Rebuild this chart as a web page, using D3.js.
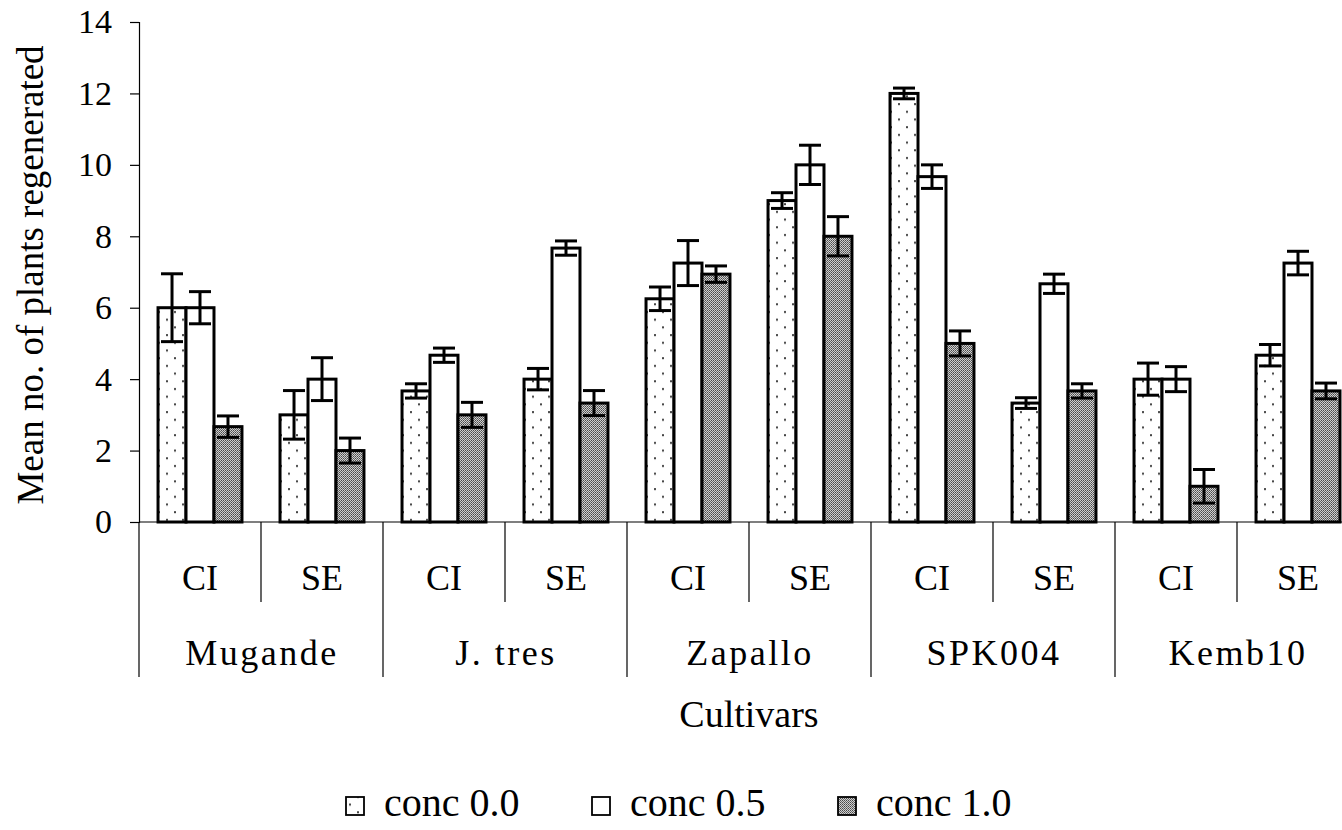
<!DOCTYPE html>
<meta charset="utf-8">
<head>
    <style>
        * { padding: 0; margin: 0; }
        body { background: #fff; }
    </style>
</head>
<body>
<svg id="chart" width="1342" height="830" font-family="'Liberation Serif', 'DejaVu Serif', serif"></svg>
<script src="https://cdn.jsdelivr.net/npm/d3@7"></script>
<script>
    // 数据
    var cultivars = ["Mugande", "J. tres", "Zapallo", "SPK004", "Kemb10"];
    var methods = ["CI", "SE"];
    var seriesNames = ["conc 0.0", "conc 0.5", "conc 1.0"];
    var yTicks = [0, 2, 4, 6, 8, 10, 12, 14];

    // 顺序: Mugande CI, Mugande SE, J. tres CI, ...
    var conc00 = [6.0, 3.0, 3.67, 4.0, 6.25, 9.0, 12.0, 3.33, 4.0, 4.67];
    var conc05 = [6.0, 4.0, 4.67, 7.67, 7.25, 10.0, 9.67, 6.67, 4.0, 7.25];
    var conc10 = [2.67, 2.0, 3.0, 3.33, 6.94, 8.0, 5.0, 3.67, 1.0, 3.67];
    var conc00Err = [0.95, 0.68, 0.2, 0.3, 0.33, 0.22, 0.15, 0.15, 0.45, 0.3];
    var conc05Err = [0.45, 0.6, 0.2, 0.2, 0.63, 0.55, 0.33, 0.27, 0.35, 0.33];
    var conc10Err = [0.3, 0.35, 0.35, 0.35, 0.23, 0.55, 0.35, 0.2, 0.47, 0.22];

    var values = [conc00, conc05, conc10];
    var errors = [conc00Err, conc05Err, conc10Err];

    // 组装行
    var rows = [];
    cultivars.forEach(function(c, i) {
        methods.forEach(function(m, j) {
            var k = i * methods.length + j;
            rows.push({
                key: c + "|" + m, cultivar: c, method: m,
                bars: seriesNames.map(function(s, si) {
                    return { series: si, value: values[si][k], err: errors[si][k] };
                })
            });
        });
    });

    var svg = d3.select("#chart");
    var serif = "'Liberation Serif', 'DejaVu Serif', serif";
    var pLeft = 139, pRight = 1359, pTop = 22, pBottom = 522;

    var y = d3.scaleLinear().domain([0, 14]).range([pBottom, pTop]);
    var x0 = d3.scaleBand().domain(rows.map(function(d) { return d.key; }))
        .range([pLeft, pRight]).paddingInner(0).paddingOuter(0);
    var x1 = d3.scaleBand().domain([0, 1, 2]).range([0, x0.bandwidth()])
        .paddingInner(0).paddingOuter(0.68);
    var xc = d3.scaleBand().domain(cultivars).range([pLeft, pRight]);

    // 填充图案
    var defs = svg.append("defs");
    var dots = defs.append("pattern").attr("id", "dots")
        .attr("patternUnits", "userSpaceOnUse").attr("width", 16).attr("height", 15.4);
    dots.append("rect").attr("width", 16).attr("height", 15.4).attr("fill", "#fff");
    dots.append("rect").attr("x", 3).attr("y", 3).attr("width", 2).attr("height", 2).attr("fill", "#444");
    dots.append("rect").attr("x", 11).attr("y", 10.7).attr("width", 2).attr("height", 2).attr("fill", "#444");

    var grey = defs.append("pattern").attr("id", "grey")
        .attr("patternUnits", "userSpaceOnUse").attr("width", 2).attr("height", 2);
    grey.append("rect").attr("width", 2).attr("height", 2).attr("fill", "#cfcfcf");
    grey.append("rect").attr("width", 1).attr("height", 1).attr("fill", "#4a4a4a");
    grey.append("rect").attr("x", 1).attr("y", 1).attr("width", 1).attr("height", 1).attr("fill", "#6a6a6a");

    var fills = ["url(#dots)", "#fff", "url(#grey)"];

    // Y 轴
    var yAxis = d3.axisLeft(y).tickValues(yTicks).tickSize(9).tickPadding(18);
    var gy = svg.append("g").attr("transform", "translate(" + pLeft + ",0)").call(yAxis)
        .attr("font-family", serif).attr("font-size", 34);
    gy.select(".domain").attr("stroke", "#000").attr("stroke-width", 1.2);
    gy.selectAll(".tick line").attr("stroke", "#000").attr("stroke-width", 1.2);
    gy.selectAll(".tick text").attr("fill", "#000");

    svg.append("text")
        .attr("transform", "translate(35,275) rotate(-90)")
        .attr("text-anchor", "middle").attr("dominant-baseline", "middle")
        .attr("font-size", 37).text("Mean no. of plants regenerated");

    // 柱子
    var groups = svg.selectAll("g.grp").data(rows).enter().append("g")
        .attr("class", "grp")
        .attr("transform", function(d) { return "translate(" + x0(d.key) + ",0)"; });

    groups.selectAll("rect.bar").data(function(d) { return d.bars; }).enter().append("rect")
        .attr("class", "bar")
        .attr("x", function(d) { return x1(d.series); })
        .attr("y", function(d) { return y(d.value); })
        .attr("width", x1.bandwidth())
        .attr("height", function(d) { return y(0) - y(d.value); })
        .attr("fill", function(d) { return fills[d.series]; })
        .attr("stroke", "#000").attr("stroke-width", 3);

    // 误差线
    var eb = groups.selectAll("g.err").data(function(d) { return d.bars; }).enter().append("g")
        .attr("class", "err")
        .attr("transform", function(d) { return "translate(" + (x1(d.series) + x1.bandwidth() / 2) + ",0)"; })
        .attr("stroke", "#000").attr("stroke-width", 3);
    eb.append("line").attr("x1", 0).attr("x2", 0)
        .attr("y1", function(d) { return y(d.value + d.err); })
        .attr("y2", function(d) { return y(d.value - d.err); });
    eb.append("line").attr("x1", -11).attr("x2", 11)
        .attr("y1", function(d) { return y(d.value + d.err); })
        .attr("y2", function(d) { return y(d.value + d.err); });
    eb.append("line").attr("x1", -11).attr("x2", 11)
        .attr("y1", function(d) { return y(d.value - d.err); })
        .attr("y2", function(d) { return y(d.value - d.err); });

    // X 轴 (两级分类)
    svg.append("line").attr("x1", pLeft).attr("x2", pRight).attr("y1", pBottom).attr("y2", pBottom)
        .attr("stroke", "#000").attr("stroke-width", 1.2);

    rows.forEach(function(d, i) {
        var xl = x0(d.key);
        var isOuter = (i % methods.length) === 0;
        svg.append("line").attr("x1", xl).attr("x2", xl)
            .attr("y1", pBottom).attr("y2", isOuter ? 677 : 602)
            .attr("stroke", "#000").attr("stroke-width", 1.2);
    });

    svg.selectAll("text.meth").data(rows).enter().append("text")
        .attr("class", "meth")
        .attr("x", function(d) { return x0(d.key) + x0.bandwidth() / 2; })
        .attr("y", 590).attr("text-anchor", "middle")
        .attr("font-size", 36).text(function(d) { return d.method; });

    svg.selectAll("text.cult").data(cultivars).enter().append("text")
        .attr("class", "cult")
        .attr("x", function(d) { return xc(d) + xc.bandwidth() / 2 + 1; })
        .attr("y", 665).attr("text-anchor", "middle")
        .attr("font-size", 36).attr("letter-spacing", 2.5).text(function(d) { return d; });

    svg.append("text").attr("x", (pLeft + pRight) / 2).attr("y", 727)
        .attr("text-anchor", "middle")
        .attr("font-size", 38).text("Cultivars");

    // 图例
    var legendX = [346, 592, 838];
    var lg = svg.selectAll("g.legend").data(seriesNames).enter().append("g")
        .attr("class", "legend")
        .attr("transform", function(d, i) { return "translate(" + legendX[i] + ",816)"; });
    lg.append("rect").attr("x", 0).attr("y", -19).attr("width", 18).attr("height", 18)
        .attr("fill", function(d, i) { return fills[i]; })
        .attr("stroke", "#000").attr("stroke-width", 1.8);
    lg.append("text").attr("x", 38).attr("y", 0)
        .attr("font-size", 40).text(function(d) { return d; });
</script>
</body>
